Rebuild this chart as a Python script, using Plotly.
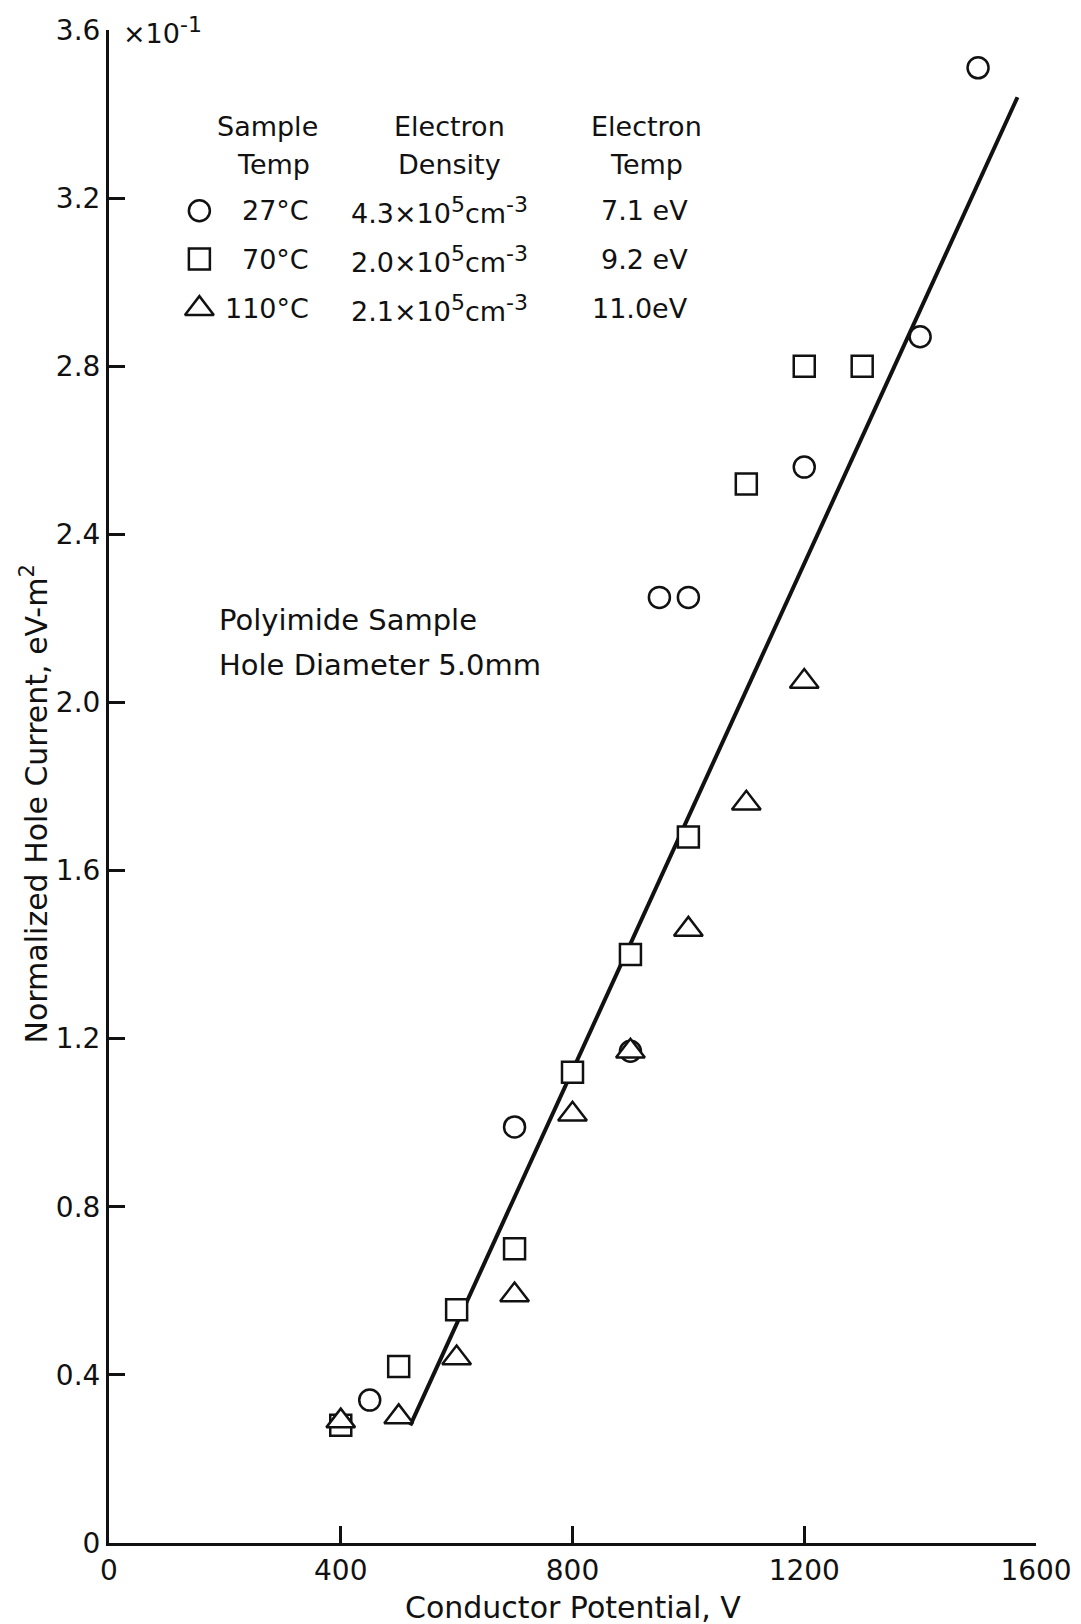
import plotly.graph_objects as go

# Measured hole current (x10^-1 eV-m^2) vs conductor potential (V)
circle_x = [450, 700, 900, 950, 1000, 1200, 1400, 1500]
circle_y = [0.34, 0.99, 1.17, 2.25, 2.25, 2.56, 2.87, 3.51]

square_x = [400, 500, 600, 700, 800, 900, 1000, 1100, 1200, 1300]
square_y = [0.28, 0.42, 0.555, 0.70, 1.12, 1.40, 1.68, 2.52, 2.80, 2.80]

tri_x = [400, 500, 600, 700, 800, 900, 1000, 1100, 1200]
tri_y = [0.29, 0.30, 0.44, 0.59, 1.02, 1.17, 1.46, 1.76, 2.05]

# Straight-line fit
fit_x = [520, 1568]
fit_y = [0.28, 3.44]

x_ticks = [0, 400, 800, 1200, 1600]
y_ticks = [0, 0.4, 0.8, 1.2, 1.6, 2.0, 2.4, 2.8, 3.2, 3.6]
y_ticktext = ["0", "0.4", "0.8", "1.2", "1.6", "2.0", "2.4", "2.8", "3.2", "3.6"]

# Key table
SUP = "<sup><span style='font-size:22px'>{}</span></sup>"
key_symbols = ["circle", "square", "triangle-up"]
key_temps = ["27°C", "70°C", "110°C"]
key_density = ["4.3×10" + SUP.format("5") + "cm" + SUP.format("-3"),
               "2.0×10" + SUP.format("5") + "cm" + SUP.format("-3"),
               "2.1×10" + SUP.format("5") + "cm" + SUP.format("-3")]
key_etemp = ["7.1 eV", "9.2 eV", "11.0eV"]
key_rows_y = [3.170, 3.055, 2.937]

FONT = "DejaVu Sans"
BLACK = "#111111"

fig = go.Figure()

fig.add_trace(go.Scatter(x=fit_x, y=fit_y, mode="lines",
                         line=dict(color=BLACK, width=4), showlegend=False))

marker_style = dict(size=21, color="white", line=dict(color=BLACK, width=2.5))
tri_style = dict(size=25, color="white", line=dict(color=BLACK, width=2.5))
fig.add_trace(go.Scatter(x=square_x, y=square_y, mode="markers",
                         marker=dict(symbol="square", **marker_style), showlegend=False))
fig.add_trace(go.Scatter(x=circle_x, y=circle_y, mode="markers",
                         marker=dict(symbol="circle", **marker_style), showlegend=False))
fig.add_trace(go.Scatter(x=tri_x, y=tri_y, mode="markers",
                         marker=dict(symbol="triangle-up", **tri_style), showlegend=False))

# Key symbols
for sym, yy in zip(key_symbols, key_rows_y):
    style = tri_style if sym == "triangle-up" else marker_style
    fig.add_trace(go.Scatter(x=[156], y=[yy], mode="markers",
                             marker=dict(symbol=sym, **style), showlegend=False))

annotations = []
txt = dict(font=dict(family=FONT, size=27, color=BLACK), showarrow=False,
           xref="x", yref="y")
note = dict(font=dict(family=FONT, size=29, color=BLACK), showarrow=False,
            xref="x", yref="y")

# Column headers
annotations += [
    dict(x=274, y=3.371, text="Sample", xanchor="center", yanchor="middle", **txt),
    dict(x=284, y=3.279, text="Temp", xanchor="center", yanchor="middle", **txt),
    dict(x=587, y=3.371, text="Electron", xanchor="center", yanchor="middle", **txt),
    dict(x=587, y=3.279, text="Density", xanchor="center", yanchor="middle", **txt),
    dict(x=928, y=3.371, text="Electron", xanchor="center", yanchor="middle", **txt),
    dict(x=928, y=3.279, text="Temp", xanchor="center", yanchor="middle", **txt),
]
for t, d, e, yy in zip(key_temps, key_density, key_etemp, key_rows_y):
    annotations.append(dict(x=348, y=yy, text=t, xanchor="right", yanchor="middle", **txt))
    annotations.append(dict(x=415, y=yy, text=d, xanchor="left", yanchor="middle", **txt))
    annotations.append(dict(x=1003, y=yy, text=e, xanchor="right", yanchor="middle", **txt))

annotations += [
    dict(x=186, y=2.197, text="Polyimide Sample", xanchor="left", yanchor="middle", **note),
    dict(x=186, y=2.088, text="Hole Diameter 5.0mm", xanchor="left", yanchor="middle", **note),
    dict(x=0, y=3.6, text="×10" + SUP.format("-1"), xanchor="left", yanchor="middle",
         xshift=12, font=dict(family=FONT, size=27, color=BLACK), showarrow=False,
         xref="x", yref="y"),
    # axis titles
    dict(x=0.5, y=0, xref="paper", yref="paper", text="Conductor Potential, V",
         xanchor="center", yanchor="middle", yshift=-64, showarrow=False,
         font=dict(family=FONT, size=30, color=BLACK)),
    dict(x=0, y=0.5, xref="paper", yref="paper",
         text="Normalized Hole Current, eV-m<sup>2</sup>", textangle=-90,
         xanchor="center", yanchor="middle", xshift=-74, yshift=-18, showarrow=False,
         font=dict(family=FONT, size=30, color=BLACK)),
]

fig.update_layout(
    width=1081, height=1624,
    margin=dict(l=109, r=45, t=30, b=81, autoexpand=False),
    paper_bgcolor="white", plot_bgcolor="white",
    font=dict(family=FONT, size=27, color=BLACK),
    annotations=annotations,
    showlegend=False,
)

fig.update_xaxes(
    range=[0, 1600], tickvals=x_ticks, ticktext=[str(v) for v in x_ticks],
    showgrid=False, zeroline=False, showline=True, linecolor=BLACK, linewidth=3,
    ticks="inside", ticklen=17, tickwidth=3, tickcolor=BLACK, automargin=False,
    tickfont=dict(family=FONT, size=28, color=BLACK),
)
fig.update_yaxes(
    range=[0, 3.6], tickvals=y_ticks, ticktext=y_ticktext,
    showgrid=False, zeroline=False, showline=True, linecolor=BLACK, linewidth=3,
    ticks="inside", ticklen=16, tickwidth=3, tickcolor=BLACK, automargin=False,
    tickfont=dict(family=FONT, size=28, color=BLACK),
)

fig.write_html("out.html")
